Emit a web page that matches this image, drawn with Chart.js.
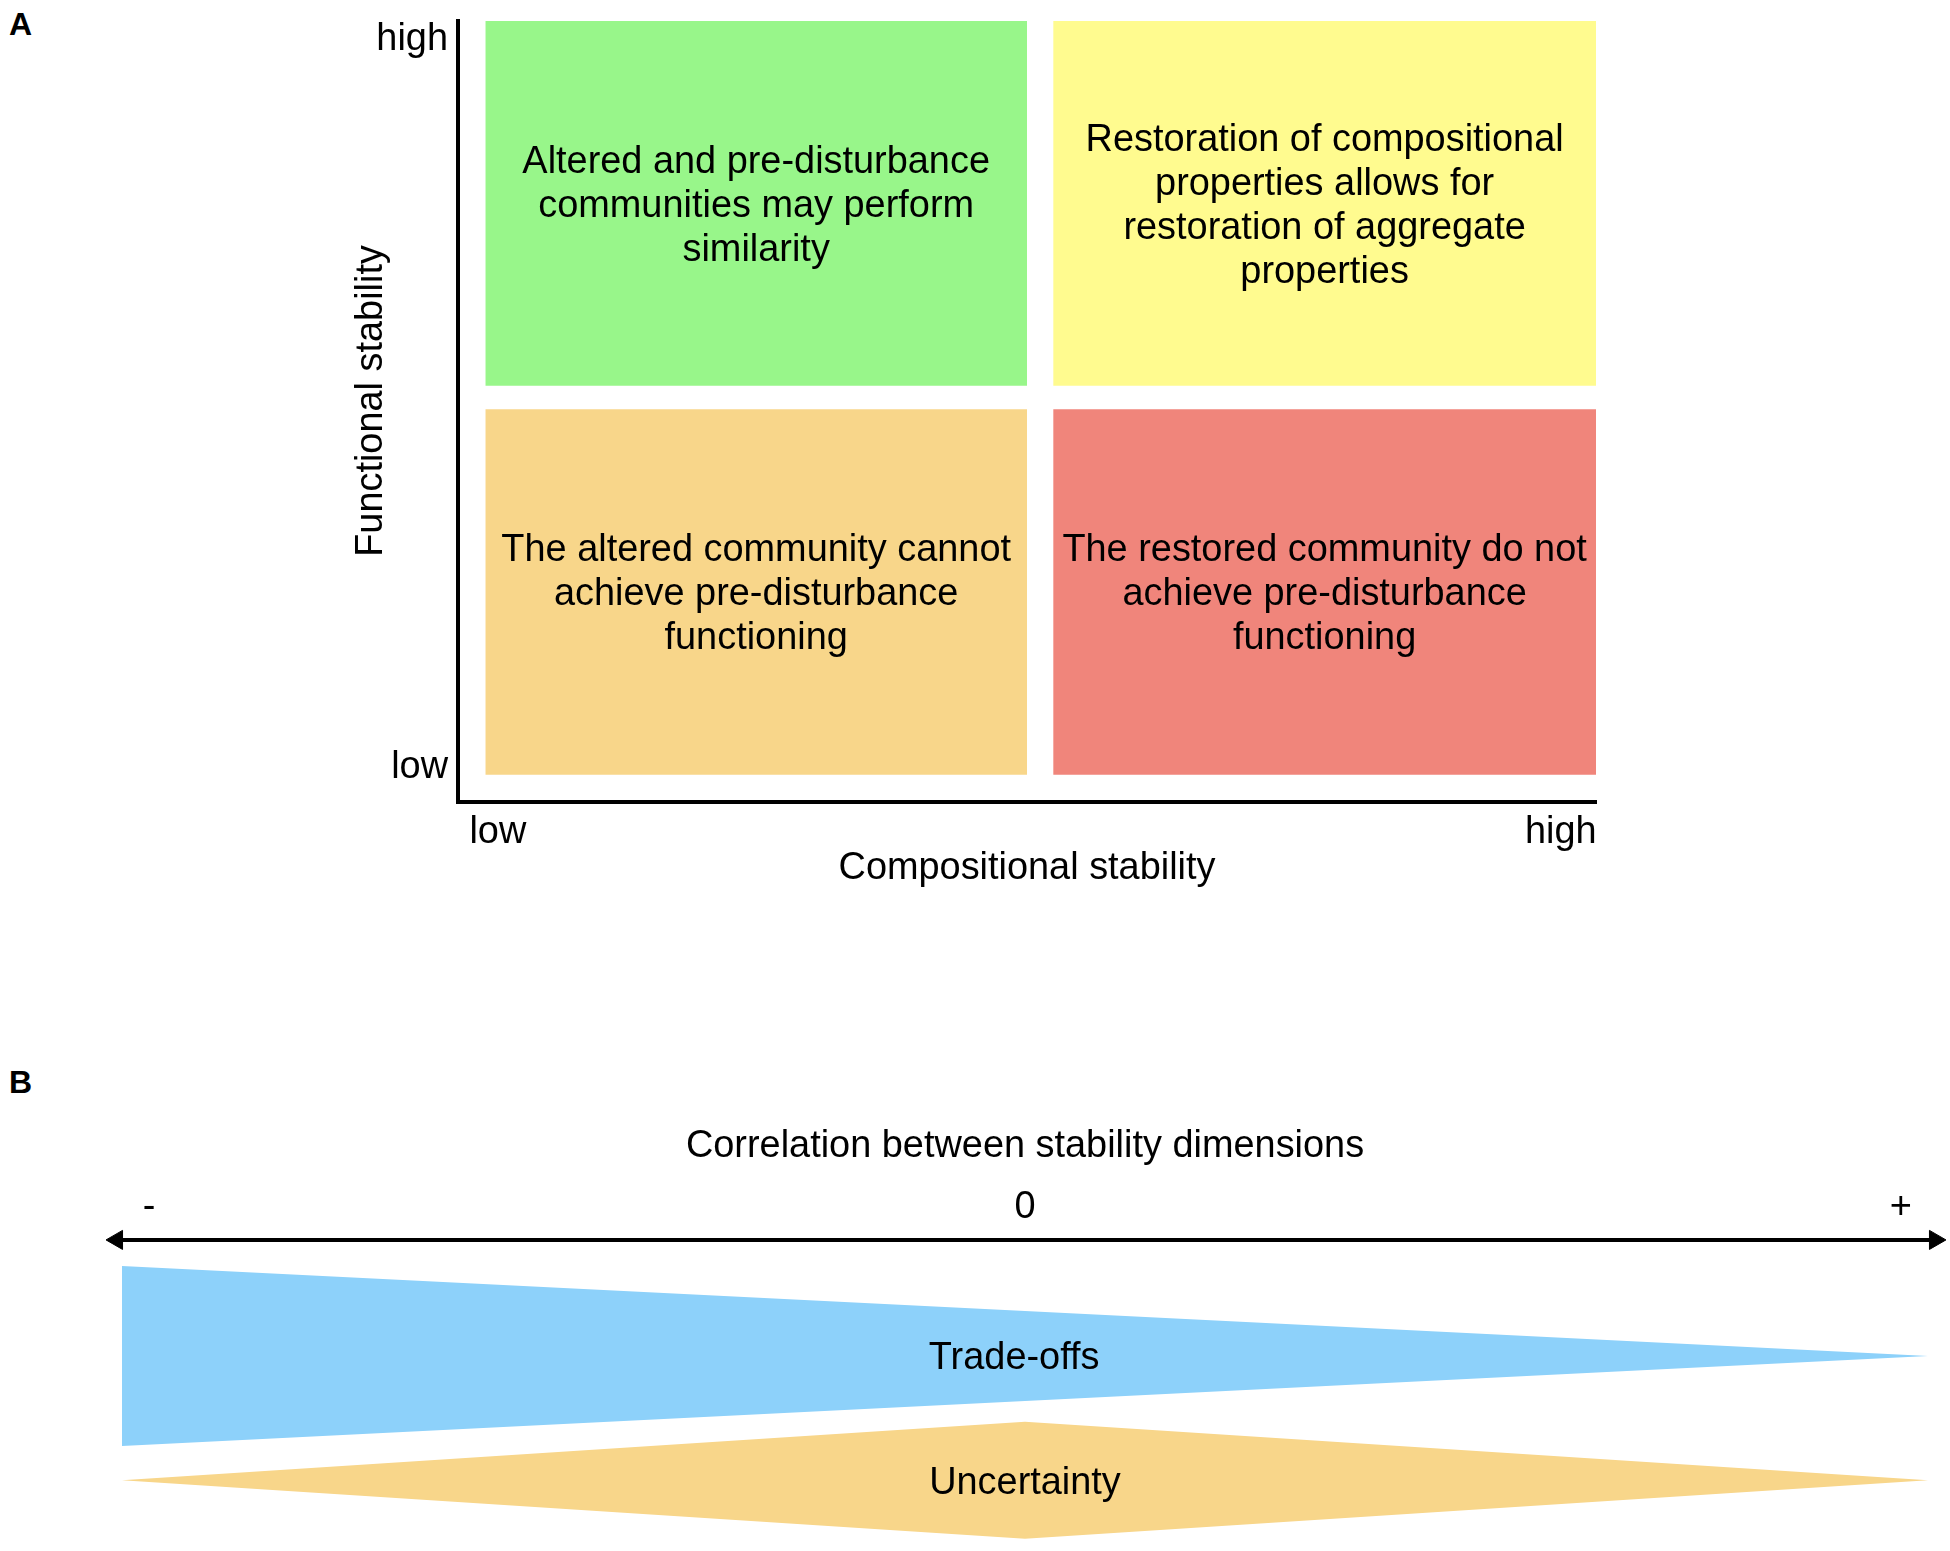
<!DOCTYPE html>
<html>
<head>
<meta charset="utf-8">
<title>Compositional and functional stability</title>
<script src="https://cdn.jsdelivr.net/npm/chart.js@4.4.1/dist/chart.umd.min.js"></script>
<style>
  html, body { margin: 0; padding: 0; background: #fff; }
  body { width: 1950px; height: 1551px; position: relative; overflow: hidden; font-family: "Liberation Sans", Arial, sans-serif; }
  .panel-letter { position: absolute; left: 9px; font-weight: bold; font-size: 32px; line-height: 1; color: #000; }
  .chart-box { position: absolute; left: 0; width: 1950px; }
  #boxA { top: 0; height: 900px; }
  #boxB { top: 1100px; height: 451px; }
</style>
</head>
<body>
<div class="panel-letter" style="top:8px">A</div>
<div class="panel-letter" style="top:1066px">B</div>
<div class="chart-box" id="boxA"><canvas id="quadrants"></canvas></div>
<div class="chart-box" id="boxB"><canvas id="gradient"></canvas></div>
<script>
// Panel A: both axes run from 0 (low) to 1 (high)
const compBands = [[0.024, 0.5], [0.523, 1.0]];    // low / high compositional stability
const funcBands = [[0.035, 0.503], [0.533, 1.0]];  // low / high functional stability
const quadrantCells = [[0, 1], [1, 1], [0, 0], [1, 0]]; // [comp band, func band]
const quadrantText = [
    ['Altered and pre-disturbance', 'communities may perform', 'similarity'],
    ['Restoration of compositional', 'properties allows for', 'restoration of aggregate', 'properties'],
    ['The altered community cannot', 'achieve pre-disturbance', 'functioning'],
    ['The restored community do not', 'achieve pre-disturbance', 'functioning']
];
const axisTickLabels = ['low', 'high'];
const compTickValues = [0.035, 0.969];
const funcTickValues = [0.044, 0.976];

// Panel B: correlation from -1 to +1
const corrTickValues = [-0.97, 0, 0.97];
const corrTickLabels = ['-', '0', '+'];
const tradeoffX = [-1, 1];
const tradeoffSpread = [1, 0];
const tradeoffLevel = 0;
const uncertaintyX = [-1, 0, 1];
const uncertaintySpread = [0, 0.65, 0];
const uncertaintyLevel = -1.38;
const arrowEnds = [-1.0055, 1.0077];
const arrowLevel = 1.29;
const shapeLabels = ['Trade-offs', 'Uncertainty'];
const shapeLabelX = [-0.012, 0];

const quadrantColors = ['#98f68a', '#fffb8f', '#f8d68a', '#f0857b'];
const blue = '#8dd1fa';
const sand = '#f8d68a';
const fontFamily = '"Liberation Sans", Arial, sans-serif';
const fontSize = 37.9;
const textFont = { family: fontFamily, size: fontSize };
const lineGap = 44;
const textDrop = 3; // canvas 'middle' sits a little above the visual centre

// no extra room for the end tick labels, the layout is fixed by padding
const noEdgePadding = s => { s.paddingTop = 0; s.paddingBottom = 0; s.paddingLeft = 0; s.paddingRight = 0; };

const quadrantLabels = {
    id: 'quadrantLabels',
    afterDatasetsDraw(chart) {
        const { ctx, scales: { x, y } } = chart;
        ctx.save();
        ctx.font = fontSize + 'px ' + fontFamily;
        ctx.fillStyle = '#000';
        ctx.textAlign = 'center';
        ctx.textBaseline = 'middle';
        quadrantCells.forEach((cell, i) => {
            const cx = x.getPixelForValue((compBands[cell[0]][0] + compBands[cell[0]][1]) / 2);
            const cy = y.getPixelForValue((funcBands[cell[1]][0] + funcBands[cell[1]][1]) / 2) + textDrop;
            const lines = quadrantText[i];
            lines.forEach((line, j) => {
                ctx.fillText(line, cx, cy + (j - (lines.length - 1) / 2) * lineGap);
            });
        });
        ctx.restore();
    }
};

const quadChart = new Chart(document.getElementById('quadrants'), {
    type: 'line',
    data: {
        datasets: quadrantCells.map((cell, i) => ({
            label: quadrantText[i].join(' '),
            data: [
                { x: compBands[cell[0]][0], y: funcBands[cell[1]][1] },
                { x: compBands[cell[0]][1], y: funcBands[cell[1]][1] }
            ],
            fill: { value: funcBands[cell[1]][0] },
            backgroundColor: quadrantColors[i],
            borderColor: 'rgba(0,0,0,0)',
            borderWidth: 0,
            pointRadius: 0
        }))
    },
    options: {
        responsive: true,
        maintainAspectRatio: false,
        animation: false,
        devicePixelRatio: 1,
        layout: { autoPadding: false, padding: { left: 340, right: 354, top: 21, bottom: 9 } },
        plugins: { legend: { display: false }, tooltip: { enabled: false } },
        scales: {
            x: {
                type: 'linear', min: 0, max: 1,
                grid: { display: false, drawTicks: false },
                border: { display: true, color: '#000', width: 4 },
                afterBuildTicks: s => { s.ticks = compTickValues.map(v => ({ value: v })); },
                afterFit: s => { s.height = 89; noEdgePadding(s); },
                ticks: { autoSkip: false, maxRotation: 0, padding: 8, color: '#000', font: textFont,
                    callback: (v, i) => axisTickLabels[i] },
                title: { display: true, text: 'Compositional stability', color: '#000', font: textFont, padding: 0 }
            },
            y: {
                type: 'linear', min: 0, max: 1,
                grid: { display: false, drawTicks: false },
                border: { display: true, color: '#000', width: 4 },
                afterBuildTicks: s => { s.ticks = funcTickValues.map(v => ({ value: v })); },
                afterFit: s => { s.width = 118; noEdgePadding(s); },
                ticks: { autoSkip: false, padding: 10, color: '#000', font: textFont,
                    callback: (v, i) => axisTickLabels[i] },
                // two leading spaces lift the title a little above the axis centre, as in the figure
                title: { display: true, text: '  Functional stability', color: '#000', font: textFont, padding: { top: 9, bottom: 0 } }
            }
        }
    },
    plugins: [quadrantLabels]
});

// Panel B
const edge = (xs, spread, level, sign) => xs.map((x, i) => ({ x: x, y: level + sign * spread[i] }));
const hidden = { borderColor: 'rgba(0,0,0,0)', borderWidth: 0, pointRadius: 0 };

const shapeText = {
    id: 'shapeText',
    afterDatasetsDraw(chart) {
        const { ctx, scales: { x, y } } = chart;
        const levels = [tradeoffLevel, uncertaintyLevel];
        ctx.save();
        ctx.font = fontSize + 'px ' + fontFamily;
        ctx.fillStyle = '#000';
        ctx.textAlign = 'center';
        ctx.textBaseline = 'middle';
        shapeLabels.forEach((t, i) => {
            ctx.fillText(t, x.getPixelForValue(shapeLabelX[i]), y.getPixelForValue(levels[i]) + textDrop);
        });
        ctx.restore();
    }
};

const corrChart = new Chart(document.getElementById('gradient'), {
    type: 'line',
    data: {
        datasets: [
            { label: 'Trade-offs', data: edge(tradeoffX, tradeoffSpread, tradeoffLevel, 1), fill: '+1', backgroundColor: blue, ...hidden },
            { label: 'Trade-offs lower', data: edge(tradeoffX, tradeoffSpread, tradeoffLevel, -1), fill: false, ...hidden },
            { label: 'Uncertainty', data: edge(uncertaintyX, uncertaintySpread, uncertaintyLevel, 1), fill: '+1', backgroundColor: sand, ...hidden },
            { label: 'Uncertainty lower', data: edge(uncertaintyX, uncertaintySpread, uncertaintyLevel, -1), fill: false, ...hidden },
            {
                label: 'axis',
                data: arrowEnds.map(x => ({ x: x, y: arrowLevel })),
                fill: false,
                clip: false,
                borderColor: '#000',
                borderWidth: 4,
                pointStyle: 'triangle',
                pointRadius: 11,
                pointRotation: [-90, 90],
                pointBackgroundColor: '#000',
                pointBorderColor: '#000',
                pointBorderWidth: 1
            }
        ]
    },
    options: {
        responsive: true,
        maintainAspectRatio: false,
        animation: false,
        devicePixelRatio: 1,
        layout: { autoPadding: false, padding: { left: 122, right: 22, top: 0, bottom: 5 } },
        plugins: { legend: { display: false }, tooltip: { enabled: false } },
        scales: {
            x: {
                type: 'linear', position: 'top', min: -1, max: 1,
                grid: { display: false, drawTicks: false },
                border: { display: false },
                afterBuildTicks: s => { s.ticks = corrTickValues.map(v => ({ value: v })); },
                afterFit: s => { s.height = 131; noEdgePadding(s); },
                ticks: { autoSkip: false, maxRotation: 0, padding: 1, color: '#000', font: textFont,
                    callback: (v, i) => corrTickLabels[i] },
                title: { display: true, text: 'Correlation between stability dimensions', color: '#000', font: textFont, padding: { top: 24, bottom: 0 } }
            },
            y: { type: 'linear', display: false, min: -2.111, max: 1.389 }
        }
    },
    plugins: [shapeText]
});
</script>
</body>
</html>
